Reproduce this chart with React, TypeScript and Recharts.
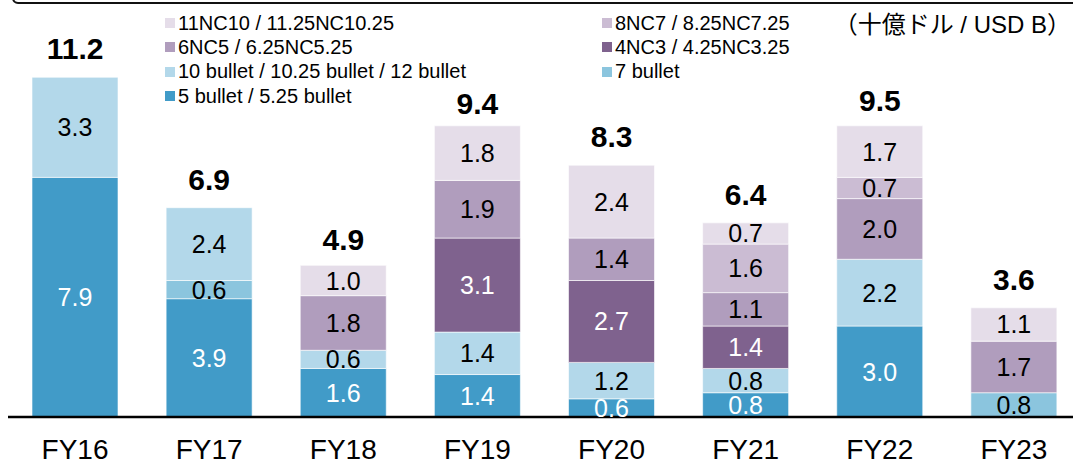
import { ComposedChart, Bar, Line, XAxis, YAxis, Legend, LabelList } from 'recharts';

const categories = ['FY16', 'FY17', 'FY18', 'FY19', 'FY20', 'FY21', 'FY22', 'FY23'];

// stacked from bottom to top
const bullet5 = [7.9, 3.9, 1.6, 1.4, 0.6, 0.8, 3.0, null];
const bullet7 = [null, 0.6, null, null, null, null, null, 0.8];
const bullet10 = [3.3, 2.4, 0.6, 1.4, 1.2, 0.8, 2.2, null];
const nc4 = [null, null, null, 3.1, 2.7, 1.4, null, null];
const nc6 = [null, null, 1.8, 1.9, 1.4, 1.1, 2.0, 1.7];
const nc8 = [null, null, null, null, null, 1.6, 0.7, null];
const nc11 = [null, null, 1.0, 1.8, 2.4, 0.7, 1.7, 1.1];
const totals = [11.2, 6.9, 4.9, 9.4, 8.3, 6.4, 9.5, 3.6];

const FONT = "'Liberation Sans', Arial, sans-serif";

const series = [
  { key: 'b5', name: '5 bullet / 5.25 bullet', values: bullet5, color: '#419bc8', text: '#ffffff' },
  { key: 'b7', name: '7 bullet', values: bullet7, color: '#8bc5de', text: '#000000' },
  { key: 'b10', name: '10 bullet / 10.25 bullet / 12 bullet', values: bullet10, color: '#b3d8ea', text: '#000000' },
  { key: 'nc4', name: '4NC3 / 4.25NC3.25', values: nc4, color: '#7f628e', text: '#ffffff' },
  { key: 'nc6', name: '6NC5 / 6.25NC5.25', values: nc6, color: '#b09dbd', text: '#000000' },
  { key: 'nc8', name: '8NC7 / 8.25NC7.25', values: nc8, color: '#cbbcd3', text: '#000000' },
  { key: 'nc11', name: '11NC10 / 11.25NC10.25', values: nc11, color: '#e5dde9', text: '#000000' },
];

const data = categories.map((name, i) => {
  const row: Record<string, any> = { name, total: totals[i] };
  series.forEach((s) => {
    row[s.key] = s.values[i];
  });
  return row;
});

const segLabel = (color: string) => (props: any) => {
  const vb = props.viewBox ?? props;
  const { x, y, width, height } = vb;
  const value = props.value;
  if (value == null || !height) return null;
  return (
    <text
      x={x + width / 2}
      y={y + height / 2 + 9}
      textAnchor="middle"
      fill={color}
      fontSize={25}
      fontFamily={FONT}
    >
      {Number(value).toFixed(1)}
    </text>
  );
};

const totalLabel = (props: any) => {
  const vb = props.viewBox ?? props;
  const x = vb.x ?? props.x;
  const y = vb.y ?? props.y;
  return (
    <text x={x} y={y - 18} textAnchor="middle" fill="#000" fontSize={30} fontWeight="bold" fontFamily={FONT}>
      {Number(props.value).toFixed(1)}
    </text>
  );
};

// legend rows, top series first, two per row
const legendOrder = ['nc11', 'nc8', 'nc6', 'nc4', 'b10', 'b7', 'b5'];

const renderLegend = () => (
  <div style={{ display: 'grid', gridTemplateColumns: '437px 300px', fontFamily: FONT, fontSize: 20, color: '#000' }}>
    {legendOrder.map((k) => {
      const s = series.find((x) => x.key === k)!;
      return (
        <div key={k} style={{ display: 'flex', alignItems: 'center', height: 24.3, whiteSpace: 'nowrap' }}>
          <span style={{ width: 10, height: 10, background: s.color, marginRight: 3, display: 'inline-block' }} />
          <span>{s.name}</span>
        </div>
      );
    })}
  </div>
);

export default function App() {
  return (
    <div style={{ position: 'fixed', left: 0, top: 0, width: 1073, height: 465, overflow: 'hidden', background: '#fff' }}>
      <div
        style={{
          position: 'absolute',
          left: 12,
          top: -30,
          width: 1200,
          height: 34,
          boxSizing: 'border-box',
          border: '2.5px solid #111',
          borderRadius: 6,
        }}
      />
      <div
        style={{
          position: 'absolute',
          right: 2,
          top: 11,
          fontSize: 24,
          lineHeight: '27px',
          fontFamily: "'Liberation Sans', Arial, 'Noto Sans CJK JP', sans-serif",
          color: '#000',
          whiteSpace: 'nowrap',
        }}
      >
        （十億ドル / USD B）
      </div>
      <div style={{ position: 'absolute', left: 8, top: 9 }}>
        <ComposedChart width={1073} height={456} data={data} margin={{ top: 44, right: 0, left: 0, bottom: 0 }}>
          <XAxis
            dataKey="name"
            height={48}
            interval={0}
            tickLine={false}
            tickSize={0}
            tickMargin={22}
            axisLine={{ stroke: '#000', strokeWidth: 2.5 }}
            tick={{ fill: '#000', fontSize: 28, fontFamily: FONT }}
          />
          <YAxis hide domain={[0, 12]} />
          <Legend
            layout="vertical"
            align="center"
            verticalAlign="middle"
            wrapperStyle={{ position: 'absolute', left: 157, top: 2, width: 'auto', height: 'auto' }}
            content={renderLegend}
          />
          {series.map((s) => (
            <Bar
              key={s.key}
              dataKey={s.key}
              name={s.name}
              stackId="a"
              fill={s.color}
              stroke="#ffffff"
              strokeWidth={0.6}
              barSize={86}
              isAnimationActive={false}
            >
              <LabelList dataKey={s.key} content={segLabel(s.text)} />
            </Bar>
          ))}
          <Line
            dataKey="total"
            stroke="none"
            dot={false}
            activeDot={false}
            legendType="none"
            isAnimationActive={false}
          >
            <LabelList dataKey="total" content={totalLabel} />
          </Line>
        </ComposedChart>
      </div>
    </div>
  );
}
